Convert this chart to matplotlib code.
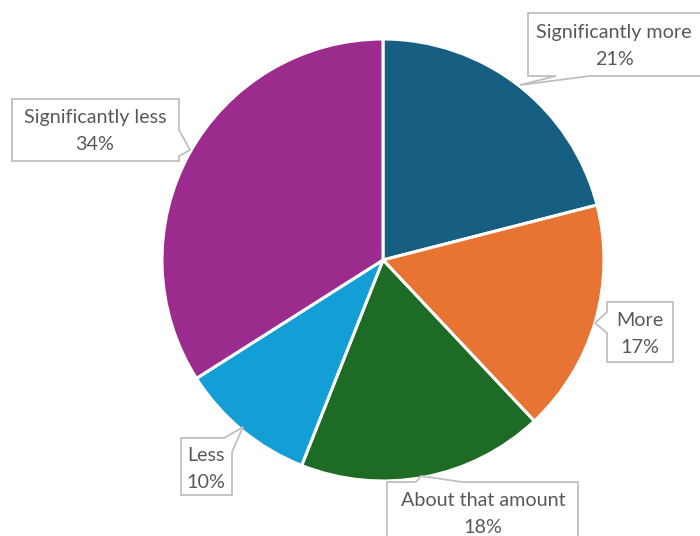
import matplotlib
matplotlib.use("Agg")
import matplotlib.pyplot as plt
from matplotlib.patches import Polygon

categories = ["Significantly more", "More", "About that amount", "Less", "Significantly less"]
values = [21, 17, 18, 10, 34]
colors = ["#175f82", "#e87434", "#1d6b24", "#149ed6", "#9c2b8e"]

W, H = 700, 536
fig = plt.figure(figsize=(W / 100, H / 100), dpi=100)
ax = fig.add_axes([0, 0, 1, 1])

cx, cy, r = 383, 260, 221
ax.pie(values, colors=colors, startangle=90, counterclock=False,
       center=(cx, H - cy), radius=r, frame=True,
       wedgeprops=dict(edgecolor="white", linewidth=2.2))
ax.set_xlim(0, W)
ax.set_ylim(0, H)
ax.set_aspect("equal")
ax.axis("off")

def fy(y):
    return H - y

# callout shapes in pixel coords (y down)
callouts = [
    dict(poly=[(528, 13), (704, 13), (704, 76), (590, 76), (520, 85), (556, 76), (528, 76)],
         text=(614, 46)),
    dict(poly=[(607, 302), (673, 302), (673, 362), (607, 362), (607, 333), (595, 323), (607, 312)],
         text=(640, 334)),
    dict(poly=[(387, 482), (416, 482), (421, 476), (462, 482), (578, 482), (578, 545), (387, 545)],
         text=(483, 514)),
    dict(poly=[(181, 438), (224, 438), (243, 427), (232, 452), (232, 495), (181, 495)],
         text=(206, 469)),
    dict(poly=[(12, 99), (179, 99), (179, 130), (190, 150), (179, 156), (179, 161), (12, 161)],
         text=(95, 131)),
]

for co, cat, val in zip(callouts, categories, values):
    pts = [(x, fy(y)) for x, y in co["poly"]]
    ax.add_patch(Polygon(pts, closed=True, facecolor="white", edgecolor="#bfbfbf",
                         linewidth=1.3, zorder=5, clip_on=False))
    tx, ty = co["text"]
    ax.text(tx, fy(ty), f"{cat}\n{val}%", ha="center", va="center",
            fontsize=14.2, color="#595959", family=["Lato", "DejaVu Sans"],
            linespacing=1.65, zorder=6)

fig.savefig("out.png", dpi=100)
